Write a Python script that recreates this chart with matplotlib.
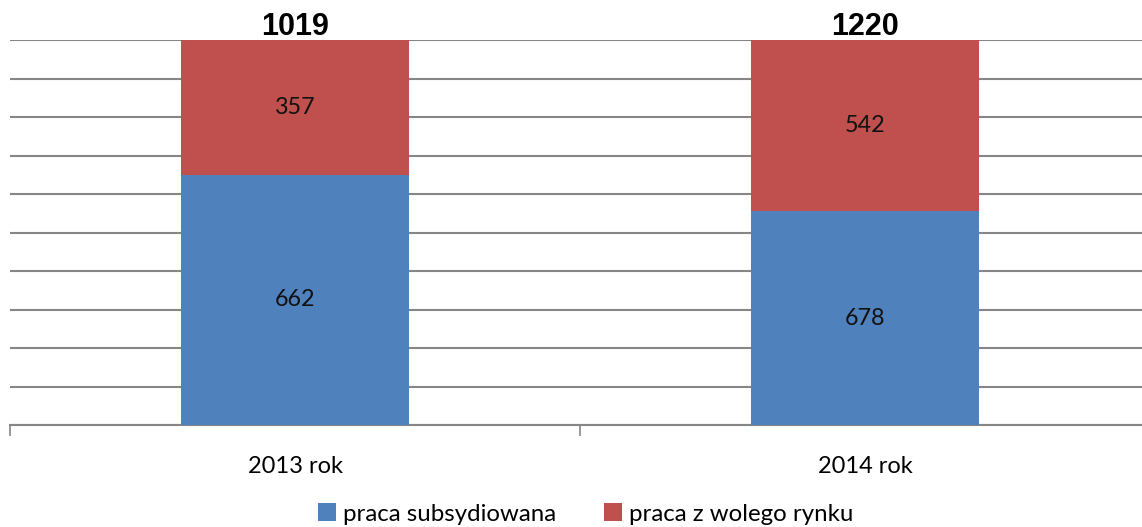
import numpy as np
import matplotlib.pyplot as plt

categories = ["2013 rok", "2014 rok"]
subsydiowana = [662, 678]
wolny_rynek = [357, 542]
totals = [1019, 1220]

blue = "#4F81BD"
red = "#C0504D"
grid_c = "#868686"

plt.rcParams['font.family'] = ['Lato', 'DejaVu Sans']

sub = np.array(subsydiowana, dtype=float)
free = np.array(wolny_rynek, dtype=float)
tot = sub + free
sub_pct = sub / tot * 100
free_pct = free / tot * 100

W, H = 1142, 527
fig = plt.figure(figsize=(W / 100, H / 100), dpi=100)
ax = fig.add_axes([10 / W, (H - 425) / H, 1140 / W, 385 / H])

x = np.arange(len(categories))
b1 = ax.bar(x, sub_pct, width=0.4, color=blue, label="praca subsydiowana", zorder=3)
b2 = ax.bar(x, free_pct, width=0.4, bottom=sub_pct, color=red,
            label="praca z wolego rynku", zorder=3)

for i in range(len(x)):
    ax.text(x[i], sub_pct[i] / 2, str(subsydiowana[i]), ha='center', va='center',
            fontsize=16.8, color='#111111', zorder=4)
    ax.text(x[i], sub_pct[i] + free_pct[i] / 2, str(wolny_rynek[i]), ha='center',
            va='center', fontsize=16.8, color='#111111', zorder=4)
    ax.text(x[i], 99.5, str(totals[i]), ha='center', va='bottom', fontsize=22,
            fontweight='bold', family='Liberation Sans', color='black', zorder=4)

ax.set_xlim(-0.5, 1.5)
ax.set_ylim(0, 100)
ax.set_yticks(np.arange(0, 101, 10))
ax.yaxis.grid(True, color=grid_c, linewidth=1.5, zorder=0)
ax.tick_params(axis='y', left=False, labelleft=False)
ax.set_xticks([-0.5, 0.5, 1.5], minor=False)
ax.set_xticklabels([])
ax.set_xticks(x, minor=True)
ax.set_xticklabels(categories, minor=True, fontsize=17)
ax.tick_params(axis='x', which='major', length=8, color=grid_c, width=1.2, direction='out')
ax.tick_params(axis='x', which='minor', length=0, pad=22)
for s in ['top', 'right', 'left']:
    ax.spines[s].set_visible(False)
ax.spines['bottom'].set_color(grid_c)
ax.spines['bottom'].set_linewidth(1.5)

fig.legend(handles=[b1, b2], loc='center', bbox_to_anchor=(0.513, (H - 514) / H),
           ncol=2, frameon=False, fontsize=17.3, handlelength=0.75, handleheight=0.75,
           handletextpad=0.3, columnspacing=2.0)

fig.savefig("out.png", dpi=100)
